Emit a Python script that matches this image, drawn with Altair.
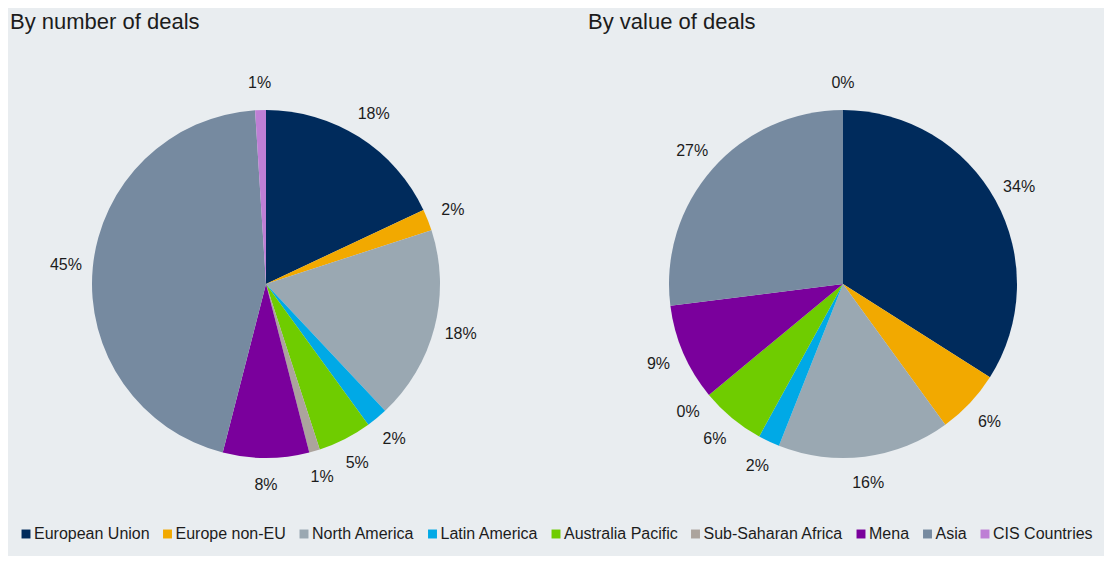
import altair as alt
import pandas as pd

categories = ["European Union", "Europe non-EU", "North America", "Latin America",
              "Australia Pacific", "Sub-Saharan Africa", "Mena", "Asia", "CIS Countries"]
colors = ["#002B5C", "#F2A900", "#9AA8B2", "#00A9E6", "#6FCC00",
          "#ACA49D", "#7A009C", "#768AA0", "#BE7FD5"]
by_number = [18, 2, 18, 2, 5, 1, 8, 45, 1]
by_value = [34, 6, 16, 2, 6, 0, 9, 27, 0]

FONT = "Liberation Sans"
TEXT_COLOR = "#1c1c1c"

color_scale = alt.Scale(domain=categories, range=colors)
legend = alt.Legend(
    title=None, orient="none", legendX=10, legendY=490, direction="horizontal",
    symbolType="square", symbolSize=80, symbolStrokeWidth=0,
    labelFontSize=16, labelFont=FONT, labelColor=TEXT_COLOR,
    columnPadding=9.5, labelOffset=0,
)


def make_df(values):
    return pd.DataFrame({"region": categories, "pct": values,
                         "idx": list(range(len(categories)))})


def pie(values, title, dx):
    base = alt.Chart(make_df(values)).encode(
        theta=alt.Theta("pct:Q", stack=True),
        order=alt.Order("idx:Q", sort="ascending"),
        detail="region:N",
    )
    arcs = base.mark_arc(outerRadius=174).encode(
        color=alt.Color("region:N", scale=color_scale, legend=legend)
    )
    labels = base.transform_calculate(label="datum.pct + '%'").mark_text(
        radius=201, fontSize=16, font=FONT, color=TEXT_COLOR,
        align="center", baseline="middle",
    ).encode(text="label:N")
    return alt.layer(arcs, labels).properties(
        width=516, height=496,
        title=alt.TitleParams(title, anchor="start", dx=dx, fontSize=22, offset=2,
                              fontWeight="normal", font=FONT, color=TEXT_COLOR),
    )


chart = alt.hconcat(
    pie(by_number, "By number of deals", 2),
    pie(by_value, "By value of deals", 3),
    spacing=61,
).resolve_scale(theta="independent").properties(
    padding={"left": 0, "top": 3, "right": 3, "bottom": 14},
    background="#E9EDF0",
).configure_view(stroke=None)

chart.save("out.html", embed_options={"renderer": "svg", "actions": False})
